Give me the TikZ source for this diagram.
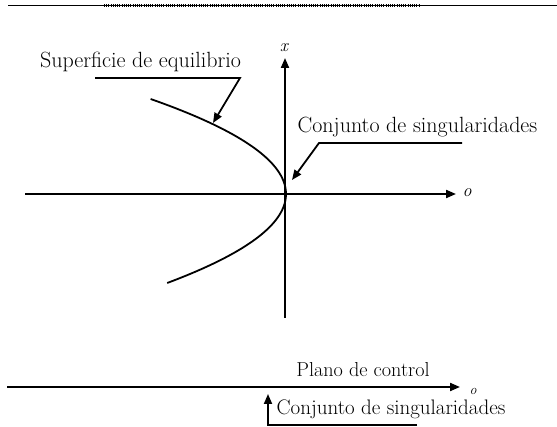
\documentclass[tikz,border=0pt]{standalone}
\usetikzlibrary{arrows.meta}
\begin{document}
\begin{tikzpicture}[x=1pt,y=-1pt,
  axis/.style={line width=2pt,-{Triangle[length=10pt,width=8pt]}},
  leader/.style={line width=1.8pt,-{Triangle[length=10pt,width=8pt]}},
  bigtext/.style={font=\fontsize{22}{26}\selectfont,inner sep=0pt},
  midtext/.style={font=\fontsize{21}{25}\selectfont,inner sep=0pt},
  plantext/.style={font=\fontsize{20.2}{24}\selectfont,inner sep=0pt},
  axlabel/.style={font=\fontsize{18}{21}\selectfont\itshape,inner sep=0pt},
  smlabel/.style={font=\fontsize{14}{16}\selectfont\itshape,inner sep=0pt}]
\useasboundingbox (0,0) rectangle (557,427);
% top rule
\coordinate (r1) at (8,5.5);
\coordinate (r2) at (557,5.5);
\coordinate (h1) at (104,5.5);
\coordinate (h2) at (419,5.5);
\draw[line width=1pt] (r1) -- (r2);
\draw[line width=3pt,dash pattern=on 0.7pt off 1.5pt] (h1) -- (h2);
% axes
\coordinate (vb) at (285,318);
\coordinate (vt) at (285,58);
\coordinate (hl) at (25,194);
\coordinate (hr) at (456,194);
\draw[axis] (vb) -- (vt);
\draw[axis] (hl) -- (hr);
\node[axlabel] (xl) at (284,48) {x};
\node[axlabel] (ol) at (467,193) {o};
% equilibrium surface
\draw[line width=1.8pt] plot[domain=-95:89,samples=80] ({286-0.0150*\x*\x},{194+\x});
% labels
\node[bigtext,anchor=base] (sup) at (140.5,68) {Superficie de equilibrio};
\coordinate (s1) at (95,78);
\coordinate (s2) at (240,78);
\coordinate (s3) at (213,123);
\draw[leader] (s1) -- (s2) -- (s3);
\node[bigtext,anchor=base] (con) at (417.5,133) {Conjunto de singularidades};
\coordinate (c1) at (462,143);
\coordinate (c2) at (319,143);
\coordinate (c3) at (292,180);
\draw[leader] (c1) -- (c2) -- (c3);
% control plane
\coordinate (pl) at (7,387);
\coordinate (pr) at (460,387);
\draw[axis] (pl) -- (pr);
\node[smlabel] (o2) at (473,391.5) {o};
\node[plantext,anchor=base] (pla) at (363,377) {Plano de control};
\node[midtext,anchor=base] (con2) at (391,415) {Conjunto de singularidades};
\coordinate (b1) at (417,425);
\coordinate (b2) at (268,425);
\coordinate (b3) at (268,394);
\draw[leader] (b1) -- (b2) -- (b3);
\end{tikzpicture}
\end{document}
